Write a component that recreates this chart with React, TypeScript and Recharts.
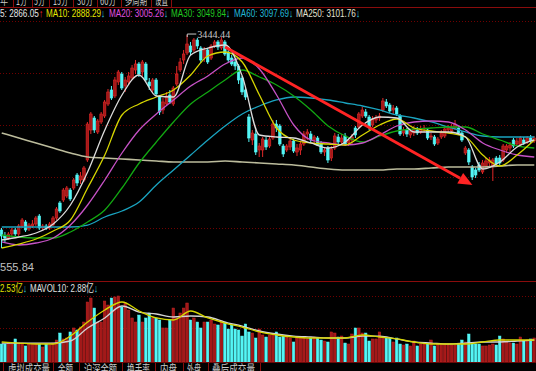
import { ComposedChart, Bar, Line, XAxis, YAxis, ReferenceLine, ReferenceDot } from "recharts";

// daily bars, oldest first
const open = [
  2631.5, 2606.5, 2598.1, 2614.8, 2631.5, 2614.8, 2648.2, 2664.9, 2635.7, 2648.2,
  2656.5, 2689.9, 2639.8, 2648.2, 2639.8, 2652.3, 2681.5, 2744.1, 2756.6, 2773.3,
  2798.3, 2806.6, 2860.8, 2840.0, 2840.0, 2923.4, 3048.5, 3098.5, 3040.2, 3081.9,
  3106.9, 3156.9, 3215.3, 3190.3, 3248.7, 3282.0, 3232.0, 3248.7, 3265.3, 3298.7,
  3323.7, 3290.4, 3323.7, 3248.7, 3215.3, 3257.0, 3186.1, 3131.9, 3156.9, 3194.4,
  3156.9, 3240.3, 3298.7, 3340.4, 3369.6, 3398.8, 3382.1, 3423.8, 3390.4, 3348.7,
  3382.1, 3348.7, 3398.8, 3415.5, 3390.4, 3415.5, 3373.8, 3348.7, 3332.1, 3315.4,
  3265.3, 3215.3, 3102.7, 3006.8, 3031.8, 2965.1, 2965.1, 3006.8, 2981.8, 3015.1,
  3073.5, 3065.2, 2981.8, 2965.1, 2977.6, 3002.6, 2956.8, 2965.1, 2990.1, 3031.8,
  3031.8, 3006.8, 3015.1, 2994.3, 2956.8, 2973.4, 2931.7, 2973.4, 3019.3, 2998.5,
  3023.5, 2994.3, 3006.8, 3056.8, 3061.0, 3106.9, 3123.6, 3102.7, 3069.3, 3090.2,
  3098.5, 3131.9, 3165.3, 3152.7, 3131.9, 3140.2, 3106.9, 3036.0, 3048.5, 3027.6,
  3036.0, 3048.5, 3040.2, 3052.7, 3048.5, 3019.3, 3019.3, 2994.3, 3019.3, 3023.5,
  3048.5, 3044.3, 3056.8, 3056.8, 3036.0, 2952.6, 2965.1, 2894.2, 2881.7, 2902.5,
  2873.4, 2898.4, 2910.9, 2898.4, 2931.7, 2931.7, 2923.4, 2965.1, 2973.4, 3006.8,
  2990.1, 2985.9, 3006.8, 2998.5, 3015.1, 3002.6,
];
const high = [
  2639.8, 2623.2, 2623.2, 2639.8, 2639.8, 2656.5, 2681.5, 2673.2, 2660.7, 2673.2,
  2689.9, 2698.2, 2656.5, 2656.5, 2664.9, 2689.9, 2727.4, 2752.4, 2806.6, 2815.0,
  2806.6, 2848.3, 2869.2, 2873.4, 2898.4, 3081.9, 3123.6, 3106.9, 3094.4, 3123.6,
  3173.6, 3219.5, 3232.0, 3269.5, 3298.7, 3290.4, 3269.5, 3290.4, 3319.5, 3340.4,
  3332.1, 3340.4, 3332.1, 3265.3, 3265.3, 3265.3, 3194.4, 3181.9, 3207.0, 3215.3,
  3232.0, 3315.4, 3348.7, 3382.1, 3444.44, 3415.5, 3432.1, 3432.1, 3398.8, 3394.6,
  3390.4, 3407.1, 3423.8, 3423.8, 3436.3, 3423.8, 3386.3, 3361.2, 3340.4, 3323.7,
  3273.7, 3223.6, 3115.2, 3048.5, 3048.5, 2994.3, 3019.3, 3019.3, 3023.5, 3090.2,
  3090.2, 3073.5, 2990.1, 2990.1, 3015.1, 3011.0, 2990.1, 2998.5, 3044.3, 3052.7,
  3044.3, 3027.6, 3023.5, 3002.6, 2977.6, 2981.8, 2981.8, 3036.0, 3031.8, 3031.8,
  3036.0, 3015.1, 3031.8, 3065.2, 3123.6, 3144.4, 3136.1, 3111.0, 3106.9, 3111.0,
  3119.4, 3181.9, 3177.8, 3161.1, 3152.7, 3148.6, 3115.2, 3061.0, 3056.8, 3052.7,
  3065.2, 3061.0, 3065.2, 3069.3, 3056.8, 3036.0, 3027.6, 3019.3, 3048.5, 3065.2,
  3069.3, 3073.5, 3090.2, 3065.2, 3044.3, 2981.8, 2973.4, 2902.5, 2890.0, 2915.1,
  2923.4, 2931.7, 2935.9, 2931.7, 2940.1, 2944.2, 2990.1, 2990.1, 2998.5, 3015.1,
  3015.1, 3023.5, 3019.3, 3023.5, 3027.6, 3023.5,
];
const low = [
  2555.84, 2581.5, 2589.8, 2606.5, 2606.5, 2606.5, 2639.8, 2623.2, 2627.3, 2639.8,
  2648.2, 2631.5, 2627.3, 2631.5, 2631.5, 2648.2, 2673.2, 2702.4, 2748.3, 2764.9,
  2752.4, 2798.3, 2815.0, 2823.3, 2831.7, 2915.1, 3031.8, 3036.0, 3031.8, 3073.5,
  3098.5, 3148.6, 3173.6, 3181.9, 3236.1, 3215.3, 3207.0, 3236.1, 3257.0, 3282.0,
  3269.5, 3273.7, 3248.7, 3215.3, 3202.8, 3190.3, 3111.0, 3115.2, 3148.6, 3156.9,
  3148.6, 3232.0, 3290.4, 3323.7, 3361.2, 3361.2, 3373.8, 3386.3, 3327.9, 3332.1,
  3323.7, 3340.4, 3390.4, 3382.1, 3382.1, 3357.1, 3332.1, 3315.4, 3298.7, 3240.3,
  3194.4, 3173.6, 2998.5, 2985.9, 2944.2, 2935.9, 2935.9, 2965.1, 2973.4, 3006.8,
  3040.2, 2981.8, 2935.9, 2956.8, 2965.1, 2952.6, 2940.1, 2944.2, 2981.8, 3006.8,
  2998.5, 2994.3, 2981.8, 2948.4, 2940.1, 2910.9, 2919.2, 2965.1, 2990.1, 2990.1,
  2981.8, 2981.8, 2990.1, 3015.1, 3052.7, 3098.5, 3098.5, 3048.5, 3061.0, 3077.7,
  3086.0, 3123.6, 3140.2, 3119.4, 3115.2, 3106.9, 3023.5, 3023.5, 3019.3, 3015.1,
  3023.5, 3027.6, 3031.8, 3040.2, 3006.8, 3006.8, 2981.8, 2985.9, 3011.0, 3015.1,
  3036.0, 3031.8, 3048.5, 3027.6, 2998.5, 2944.2, 2902.5, 2840.0, 2848.3, 2873.4,
  2865.0, 2890.0, 2898.4, 2835.8, 2898.4, 2902.5, 2915.1, 2952.6, 2956.8, 2973.4,
  2981.8, 2977.6, 2985.9, 2990.1, 2994.3, 2994.3,
];
const close = [
  2606.5, 2598.1, 2614.8, 2631.5, 2614.8, 2648.2, 2673.2, 2631.5, 2652.3, 2656.5,
  2681.5, 2639.8, 2648.2, 2639.8, 2656.5, 2681.5, 2719.1, 2710.7, 2798.3, 2806.6,
  2760.8, 2840.0, 2827.5, 2856.7, 2890.0, 3073.5, 3115.2, 3048.5, 3086.0, 3115.2,
  3165.3, 3207.0, 3181.9, 3257.0, 3290.4, 3223.6, 3257.0, 3273.7, 3307.0, 3323.7,
  3282.0, 3332.1, 3257.0, 3232.0, 3257.0, 3198.6, 3123.6, 3165.3, 3190.3, 3165.3,
  3223.6, 3282.0, 3332.1, 3365.4, 3407.1, 3373.8, 3423.8, 3398.8, 3340.4, 3382.1,
  3332.1, 3398.8, 3415.5, 3394.6, 3423.8, 3365.4, 3340.4, 3323.7, 3315.4, 3257.0,
  3207.0, 3186.1, 3015.1, 3036.0, 2956.8, 2981.8, 3011.0, 2977.6, 3011.0, 3073.5,
  3056.8, 2990.1, 2948.4, 2981.8, 3002.6, 2960.9, 2973.4, 2990.1, 3031.8, 3040.2,
  3006.8, 3019.3, 2985.9, 2956.8, 2965.1, 2923.4, 2969.3, 3023.5, 2998.5, 3015.1,
  2990.1, 3006.8, 3019.3, 3027.6, 3115.2, 3131.9, 3106.9, 3061.0, 3094.4, 3098.5,
  3106.9, 3169.4, 3148.6, 3127.7, 3140.2, 3115.2, 3031.8, 3048.5, 3031.8, 3044.3,
  3052.7, 3036.0, 3052.7, 3056.8, 3015.1, 3023.5, 2990.1, 3011.0, 3036.0, 3052.7,
  3056.8, 3061.0, 3073.5, 3036.0, 3006.8, 2973.4, 2915.1, 2852.5, 2860.8, 2881.7,
  2910.9, 2919.2, 2923.4, 2923.4, 2906.7, 2910.9, 2981.8, 2981.8, 2985.9, 2981.8,
  3002.6, 3015.1, 2994.3, 3015.1, 3002.6, 3015.1,
];
// volume, 亿
const vol = [
  2.57, 2.57, 2.71, 2.57, 3.29, 2.71, 2.71, 2.29, 2.57, 2.57,
  2.57, 2.57, 2.14, 2.57, 2.43, 2.71, 3.14, 4.14, 3.29, 3.43,
  4.29, 4.86, 4.57, 5.0, 5.71, 8.57, 9.14, 7.71, 5.71, 5.71,
  8.71, 8.14, 9.14, 9.29, 9.43, 7.86, 8.43, 7.43, 6.29, 5.71,
  6.71, 5.71, 6.29, 7.0, 6.29, 6.29, 6.0, 4.86, 4.86, 6.0,
  7.71, 6.29, 7.0, 7.71, 8.43, 6.0, 6.29, 5.71, 4.86, 5.71,
  5.71, 6.0, 5.43, 5.29, 5.86, 5.71, 4.71, 5.29, 4.71, 4.57,
  3.71, 5.43, 4.29, 4.14, 3.43, 4.71, 3.86, 3.57, 3.86, 3.86,
  4.29, 3.57, 3.71, 3.57, 3.43, 2.86, 3.43, 3.57, 3.43, 3.29,
  3.43, 3.57, 3.43, 3.14, 3.0, 2.86, 4.29, 4.14, 3.57, 3.71,
  2.71, 2.57, 4.0, 4.86, 4.86, 4.14, 4.14, 3.0, 3.29, 3.29,
  4.29, 3.57, 3.57, 3.43, 2.86, 3.43, 2.57, 2.43, 2.57, 2.29,
  3.0, 2.29, 2.57, 2.57, 2.71, 3.14, 2.29, 2.57, 2.57, 2.57,
  2.43, 2.43, 2.43, 2.57, 3.14, 2.86, 4.0, 2.71, 2.57, 2.57,
  2.29, 2.29, 2.43, 2.57, 2.43, 3.71, 3.29, 2.86, 2.71, 2.71,
  2.57, 3.57, 3.0, 3.14, 3.29, 3.43,
];

// moving averages read every 5th bar
const maAt = [0, 5, 10, 15, 20, 25, 30, 35, 40, 45, 50, 55, 60, 65, 70, 75, 80, 85, 90, 95, 100, 105, 110, 115, 120, 125, 130, 135, 140, 145, 150, 155];
const ma5 = [2589.8, 2602.3, 2619.0, 2656.5, 2735.7, 2873.4, 3048.5, 3194.4, 3277.8, 3190.3, 3186.1, 3361.2, 3390.4, 3402.9, 3273.7, 3027.6, 3019.3, 3015.1, 2994.3, 2973.4, 2998.5, 3069.3, 3102.7, 3098.5, 3040.2, 3040.2, 3040.2, 3019.3, 2885.9, 2915.1, 2977.6, 3006.8];
const ma10 = [2556.4, 2573.1, 2594.0, 2627.3, 2673.2, 2806.6, 2944.2, 3111.0, 3156.9, 3186.1, 3215.3, 3277.8, 3357.1, 3373.8, 3332.1, 3194.4, 3056.8, 3006.8, 2994.3, 2990.1, 2985.9, 3027.6, 3069.3, 3094.4, 3056.8, 3044.3, 3036.0, 3019.3, 2944.2, 2898.4, 2944.2, 3006.8];
const ma20 = [2581.5, 2568.9, 2577.3, 2598.1, 2652.3, 2735.7, 2840.0, 2952.6, 3048.5, 3115.2, 3173.6, 3232.0, 3273.7, 3323.7, 3348.7, 3302.9, 3194.4, 3069.3, 3006.8, 2994.3, 2985.9, 2994.3, 3027.6, 3065.2, 3081.9, 3086.0, 3081.9, 3048.5, 2994.3, 2965.1, 2944.2, 2935.9];
const ma30 = [2610.6, 2602.3, 2598.1, 2598.1, 2623.2, 2664.9, 2714.9, 2806.6, 2910.9, 2998.5, 3081.9, 3156.9, 3207.0, 3257.0, 3298.7, 3269.5, 3236.1, 3190.3, 3131.9, 3065.2, 3023.5, 2998.5, 3023.5, 3044.3, 3052.7, 3056.8, 3061.0, 3061.0, 3031.8, 3006.8, 2981.8, 2973.4];
const ma60 = [2644.0, 2644.0, 2644.0, 2644.0, 2644.0, 2652.3, 2685.7, 2710.7, 2748.3, 2819.1, 2881.7, 2944.2, 3006.8, 3065.2, 3115.2, 3148.6, 3173.6, 3186.1, 3181.9, 3173.6, 3161.1, 3148.6, 3131.9, 3111.0, 3098.5, 3081.9, 3061.0, 3040.2, 3023.5, 3019.3, 3019.3, 3019.3];
const ma250 = [3036.0, 3015.1, 2994.3, 2973.4, 2952.6, 2935.9, 2931.7, 2927.6, 2923.4, 2919.2, 2915.1, 2915.1, 2915.1, 2919.2, 2915.1, 2910.9, 2906.7, 2902.5, 2894.2, 2885.9, 2881.7, 2881.7, 2881.7, 2885.9, 2885.9, 2890.0, 2894.2, 2894.2, 2894.2, 2898.4, 2902.5, 2902.5];
const mavol5 = [2.86, 2.71, 2.57, 2.57, 3.71, 5.71, 7.43, 8.57, 7.29, 6.29, 6.0, 7.29, 6.29, 5.57, 5.0, 4.29, 3.86, 3.57, 3.43, 3.43, 3.43, 3.86, 3.57, 3.29, 2.86, 2.57, 2.57, 2.57, 2.86, 3.14, 3.14, 3.14];
const mavol10 = [2.71, 2.71, 2.71, 2.71, 3.0, 4.86, 6.29, 8.0, 7.14, 6.86, 6.43, 6.57, 6.43, 5.71, 5.14, 4.43, 4.0, 3.71, 3.57, 3.43, 3.43, 3.71, 3.71, 3.29, 2.86, 2.71, 2.57, 2.71, 2.86, 2.86, 3.0, 3.14];

const RED = "#e02828";
const RED_FILL = "#a41818";
const CYAN = "#54f6f6";
const DOWN = "#30d0e0";

const data: any[] = open.map((o, i) => ({
  i,
  open: o,
  high: high[i],
  low: low[i],
  close: close[i],
  range: [low[i], high[i]],
  vol: vol[i],
  up: close[i] >= o,
}));
maAt.forEach((at, k) => {
  Object.assign(data[at], {
    ma5: ma5[k], ma10: ma10[k], ma20: ma20[k], ma30: ma30[k], ma60: ma60[k], ma250: ma250[k],
    mv5: mavol5[k], mv10: mavol10[k],
  });
});

const Candle = (p: any) => {
  const { x, y, width, height, payload } = p;
  if (!payload) return <g />;
  const top = Math.min(y, y + height);
  const h = Math.abs(height);
  const k = h / (payload.high - payload.low || 1);
  const bTop = top + (payload.high - Math.max(payload.open, payload.close)) * k;
  const bBot = top + (payload.high - Math.min(payload.open, payload.close)) * k;
  const cx = x + width / 2;
  const col = payload.up ? RED : CYAN;
  return (
    <g>
      <line x1={cx} x2={cx} y1={top} y2={top + h} stroke={col} strokeWidth={1} />
      <rect x={cx - 1.3} y={bTop} width={2.6} height={Math.max(1, bBot - bTop)}
        fill={payload.up ? RED_FILL : CYAN} stroke={col} strokeWidth={0.6} />
    </g>
  );
};

const VolBar = (p: any) => {
  const { x, y, width, height, payload } = p;
  if (!payload) return <g />;
  const cx = x + width / 2;
  return (
    <rect x={cx - 1.25} y={y} width={2.5} height={Math.max(0, height)}
      fill={payload.up ? RED_FILL : CYAN} stroke={payload.up ? "#c42626" : CYAN} strokeWidth={0.5} />
  );
};

const Arrow = (p: any) => {
  const { x1, y1, x2, y2 } = p;
  const a = Math.atan2(y2 - y1, x2 - x1);
  const len = 14, hw = 6;
  const bx = x2 - len * Math.cos(a), by = y2 - len * Math.sin(a);
  const px = -Math.sin(a) * hw, py = Math.cos(a) * hw;
  return (
    <g>
      <line x1={x1} y1={y1} x2={bx} y2={by} stroke="#ff2424" strokeWidth={3} />
      <polygon points={`${x2},${y2} ${bx + px},${by + py} ${bx - px},${by - py}`} fill="#ff2424" />
    </g>
  );
};

const PeakLabel = (p: any) => {
  const { cx, cy } = p;
  return (
    <g>
      <path d={`M${cx},${cy + 2} V${cy - 1} H${cx + 9}`} stroke="#c8c8c8" fill="none" strokeWidth={1} />
      <text x={cx + 10} y={cy + 3} fontSize={11} fill="#c8c8c8" textLength={33} lengthAdjust="spacingAndGlyphs">3444.44</text>
    </g>
  );
};

const legend = [
  { t: "5: 2866.05", x: 0, w: 43, c: "#e6e6e6", up: true },
  { t: "MA10: 2888.29", x: 46, w: 59, c: "#e8e800" },
  { t: "MA20: 3005.26", x: 109, w: 59, c: "#e050e0" },
  { t: "MA30: 3049.84", x: 171, w: 59, c: "#20c820" },
  { t: "MA60: 3097.69", x: 234, w: 59, c: "#20b8d8" },
  { t: "MA250: 3101.76", x: 296, w: 64, c: "#e0e0d0" },
];
const topTabs = [
  { t: "年", x: 0, w: 8 }, { t: "1分", x: 16, w: 11 }, { t: "5分", x: 34, w: 11 },
  { t: "15分", x: 53, w: 15 }, { t: "30分", x: 77, w: 16 }, { t: "60分", x: 100, w: 16 },
  { t: "多周期", x: 125, w: 22 }, { t: "设置", x: 155, w: 13 },
];
const topSeps = [13, 32, 49, 73, 97, 121, 151, 171];
const bottomTabs = [
  { t: "虚拟成交量", x: 8, w: 42 }, { t: "金额", x: 58, w: 15 }, { t: "沪深金额", x: 84, w: 33 },
  { t: "换手率", x: 127, w: 23 }, { t: "内盘", x: 160, w: 17 }, { t: "外盘", x: 187, w: 14 },
  { t: "叠后成交量", x: 212, w: 43 },
];
const bottomSeps = [3, 53, 79, 122, 155, 183, 208, 260];
const priceGrid = [21.5, 73.5, 125.5, 177.5, 228.5];
const volGrid = [296.5, 328.5];

const font = '"Liberation Sans", "DejaVu Sans", "Noto Sans CJK SC", sans-serif';
const cjk = '"Noto Sans CJK SC", sans-serif';

export default function App() {
  const m = { top: 0, right: 0, bottom: 0, left: 0 };
  return (
    <div style={{ position: "fixed", left: 0, top: 0, width: 536, height: 371, background: "#000", overflow: "hidden" }}>
      <svg width={536} height={371} style={{ position: "absolute", left: 0, top: 0 }}>
        {priceGrid.concat(volGrid).map((y) => (
          <line key={y} x1={0} x2={536} y1={y} y2={y} stroke="#700000" strokeDasharray="1 2" />
        ))}
        <line x1={0} x2={536} y1={281.5} y2={281.5} stroke="#8a0c0c" strokeWidth={1.2} />
        <line x1={0} x2={536} y1={7.5} y2={7.5} stroke="#8a0c0c" />
        <line x1={0} x2={536} y1={362.5} y2={362.5} stroke="#6a0808" />
      </svg>

      <div style={{ position: "absolute", left: 0, top: 21 }}>
        <ComposedChart width={536} height={259} data={data} margin={m} barCategoryGap={0}>
          <XAxis dataKey="i" hide />
          <YAxis hide type="number" domain={[2423, 3503]} allowDataOverflow />
          <Bar dataKey="range" shape={Candle} isAnimationActive={false} />
          <Line type="monotone" dataKey="ma250" stroke="#bcbc9c" strokeWidth={1.6} dot={false} connectNulls isAnimationActive={false} />
          <Line type="monotone" dataKey="ma60" stroke="#1aa4c0" strokeWidth={1.3} dot={false} connectNulls isAnimationActive={false} />
          <Line type="monotone" dataKey="ma30" stroke="#12a812" strokeWidth={1.3} dot={false} connectNulls isAnimationActive={false} />
          <Line type="monotone" dataKey="ma20" stroke="#c652c6" strokeWidth={1.3} dot={false} connectNulls isAnimationActive={false} />
          <Line type="monotone" dataKey="ma10" stroke="#d6d600" strokeWidth={1.3} dot={false} connectNulls isAnimationActive={false} />
          <Line type="monotone" dataKey="ma5" stroke="#dcdcdc" strokeWidth={1.3} dot={false} connectNulls isAnimationActive={false} />
          <ReferenceLine segment={[{ x: 65, y: 3394.6 }, { x: 137, y: 2819.1 }]} shape={Arrow} ifOverflow="visible" />
          <ReferenceDot x={54} y={3444.44} shape={PeakLabel} ifOverflow="visible" />
        </ComposedChart>
      </div>

      <div style={{ position: "absolute", left: 0, top: 282 }}>
        <ComposedChart width={536} height={80} data={data} margin={m} barCategoryGap={0}>
          <XAxis dataKey="i" hide />
          <YAxis hide type="number" domain={[0, 11.43]} allowDataOverflow />
          <Bar dataKey="vol" shape={VolBar} isAnimationActive={false} />
          <Line type="monotone" dataKey="mv10" stroke="#d4d4d4" strokeWidth={1.3} dot={false} connectNulls isAnimationActive={false} />
          <Line type="monotone" dataKey="mv5" stroke="#d6d600" strokeWidth={1.3} dot={false} connectNulls isAnimationActive={false} />
        </ComposedChart>
      </div>

      <svg width={536} height={371} style={{ position: "absolute", left: 0, top: 0, pointerEvents: "none" }}>
        {topSeps.map((x) => (
          <line key={x} x1={x + 0.5} x2={x + 0.5} y1={0} y2={7} stroke="#8a0c0c" />
        ))}
        {topTabs.map((d) => (
          <text key={d.t} x={d.x} y={5} fontSize={12} fill="#c8c8c8" fontFamily={cjk}
            textLength={d.w} lengthAdjust="spacingAndGlyphs">{d.t}</text>
        ))}
        {legend.map((d) => (
          <text key={d.t} x={d.x} y={17} fontSize={11} fontFamily={font} fill={d.c}
            textLength={d.w} lengthAdjust="spacingAndGlyphs">
            {d.t}
            <tspan fill={d.up ? "#ff3030" : DOWN}>{d.up ? "↑" : "↓"}</tspan>
          </text>
        ))}
        <text x={0} y={271} fontSize={11} fill="#c0c0c0" fontFamily={font} textLength={34} lengthAdjust="spacingAndGlyphs">555.84</text>
        <text x={0} y={292} fontSize={11} fontFamily={font} fill="#e0e000" textLength={27} lengthAdjust="spacingAndGlyphs">
          2.53亿<tspan fill={DOWN}>↓</tspan>
        </text>
        <text x={30} y={292} fontSize={11} fontFamily={font} fill="#e0e0e0" textLength={68} lengthAdjust="spacingAndGlyphs">
          MAVOL10: 2.88亿<tspan fill={DOWN}>↓</tspan>
        </text>
        {bottomSeps.map((x) => (
          <line key={x} x1={x + 0.5} x2={x + 0.5} y1={363} y2={371} stroke="#8a0c0c" />
        ))}
        {bottomTabs.map((d) => (
          <text key={d.t} x={d.x} y={374} fontSize={12} fill="#c8c8c8" fontFamily={cjk}
            textLength={d.w} lengthAdjust="spacingAndGlyphs">{d.t}</text>
        ))}
      </svg>
    </div>
  );
}
